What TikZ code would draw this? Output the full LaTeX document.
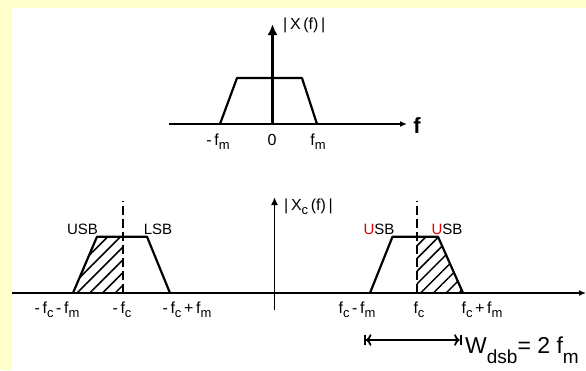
\documentclass[tikz,border=0pt]{standalone}
\usepackage{fontspec}
\setmainfont{Liberation Sans}
\usepackage{xcolor}
\usetikzlibrary{arrows.meta, patterns.meta, positioning}
\definecolor{PaleYellow}{RGB}{255, 255, 204}
\definecolor{MarkRed}{RGB}{228, 0, 0}
\newcommand{\lowsub}[2][13]{\raisebox{-4pt}{\fontsize{#1}{#1}\selectfont #2}}
\tikzset{
  axisline/.style={line width=1.6pt},
  bandedge/.style={line width=2.2pt, line join=round},
  centerline/.style={line width=2pt, dash pattern=on 9pt off 4pt},
  hatch/.style={pattern={Lines[angle=45, distance=9pt, line width=1.5pt]}},
  sblabel/.style={font=\fontsize{15}{18}\selectfont, inner sep=0pt, anchor=base},
  freqlabel/.style={font=\fontsize{16}{19}\selectfont, inner sep=0pt, anchor=base},
}

\begin{document}
\begin{tikzpicture}[x=1pt, y=-1pt]
  \fill[PaleYellow] (0,0) rectangle (586,370);
  \fill[white] (12,8) rectangle (586,370);
  \useasboundingbox (0,0) rectangle (586,370);

  \draw[axisline, -{Latex[length=7pt, width=6pt]}] (169,124) -- (407,124);
  \draw[line width=3pt, -{Latex[length=11pt, width=10pt]}] (272.5,124) -- (272.5,24);
  \draw[bandedge] (220,124) -- (237,78) -- (302,78) -- (317,124);
  \node[freqlabel, anchor=base west] (magX) at (283,29) {|\,X\,(f)\,|};
  \node[freqlabel] (mfm) at (218,145) {-\,f\lowsub{m}};
  \node[freqlabel] (zero) at (272,145) {0};
  \node[freqlabel] (pfm) at (318,145) {f\lowsub{m}};
  \node[font=\fontsize{22}{22}\selectfont\bfseries, inner sep=0pt] (faxis) at (417,126) {f};

  \draw[axisline, -{Latex[length=7pt, width=6pt]}] (12,293) -- (586,293);
  \draw[axisline, -{Latex[length=8pt, width=7pt]}] (274.5,310) -- (274.5,197);
  \node[freqlabel, anchor=base west] (magXc) at (284,210) {|\,X\lowsub{c}\,(f)\,|};

  \fill[hatch] (73,293) -- (97,236.7) -- (123.3,236.7) -- (123.3,293) -- cycle;
  \draw[bandedge] (73,293) -- (97,236.7) -- (147,236.7) -- (170,293);
  \draw[centerline] (123.3,293) -- (123.3,201);
  \node[sblabel] (usbL) at (82.5,234) {USB};
  \node[sblabel] (lsbL) at (158,234) {LSB};

  \fill[hatch] (416.5,293) -- (416.5,236.7) -- (438,236.7) -- (463,293) -- cycle;
  \draw[bandedge] (370,293) -- (392.5,236.7) -- (438,236.7) -- (463,293);
  \draw[centerline] (416.5,293) -- (416.5,201);
  \node[sblabel] (usbR) at (379,234) {\textcolor{MarkRed}{U}SB};
  \node[sblabel] (lsbR) at (447,234) {\textcolor{MarkRed}{U}SB};

  \node[freqlabel] (mfcmfm) at (57,313) {-\,f\lowsub{c}\,-\,f\lowsub{m}};
  \node[freqlabel] (mfc) at (122,313) {-\,f\lowsub{c}};
  \node[freqlabel] (mfcpfm) at (187,313) {-\,f\lowsub{c}\,+\,f\lowsub{m}};
  \node[freqlabel] (fcmfm) at (357,313) {f\lowsub{c}\,-\,f\lowsub{m}};
  \node[freqlabel] (fc) at (419,313) {f\lowsub{c}};
  \node[freqlabel] (fcpfm) at (482,313) {f\lowsub{c}\,+\,f\lowsub{m}};

  \coordinate (wstart) at (364,340);
  \coordinate (wend) at (461.5,340);
  \draw[line width=1.8pt, |<->|] (wstart) -- (wend);
  \node[font=\fontsize{23}{25}\selectfont, inner sep=0pt, anchor=base west] (wdsb) at (465,353)
    {W\raisebox{-10pt}{\fontsize{19}{19}\selectfont dsb}= 2 f\raisebox{-10pt}{\fontsize{19}{19}\selectfont m}};
\end{tikzpicture}
\end{document}
